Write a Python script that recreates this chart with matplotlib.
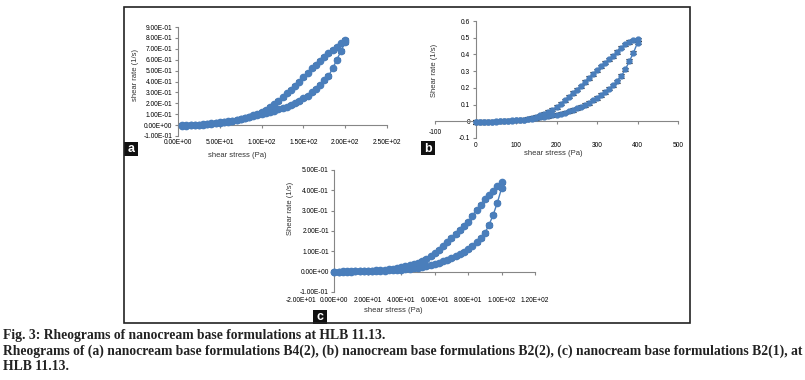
import matplotlib
matplotlib.use("Agg")
import matplotlib.pyplot as plt
from matplotlib.patches import Rectangle
import numpy as np

# ---- data (shear stress in Pa, shear rate in 1/s)
a_stress_up = [5, 10, 15, 20, 25, 30, 35, 40, 45, 50, 55, 60, 65, 70, 75, 80, 85, 90, 95, 100,
               105, 110, 115, 120, 125, 130, 135, 140, 145, 150, 155, 160, 165, 170, 175, 180, 185, 190, 195, 200]
a_rate_up = [0.0, 0.0, 0.001, 0.002, 0.005, 0.008, 0.011, 0.015, 0.02, 0.025, 0.03, 0.035, 0.041, 0.047,
             0.054, 0.062, 0.071, 0.08, 0.09, 0.10, 0.11, 0.12, 0.132, 0.145, 0.157, 0.17, 0.185, 0.20,
             0.22, 0.245, 0.27, 0.30, 0.335, 0.37, 0.41, 0.45, 0.52, 0.60, 0.68, 0.76]
a_stress_down = [200, 195, 190, 185, 180, 175, 170, 165, 160, 155, 150, 145, 140, 135, 130, 125, 120, 115,
                 110, 105, 100, 95, 90, 85, 80, 75, 70, 65, 60, 55, 50, 45, 40, 35, 30, 25, 20, 15, 10, 5]
a_rate_down = [0.78, 0.75, 0.72, 0.69, 0.66, 0.625, 0.59, 0.555, 0.52, 0.48, 0.44, 0.40, 0.36, 0.325,
               0.29, 0.255, 0.22, 0.19, 0.165, 0.14, 0.12, 0.105, 0.09, 0.077, 0.065, 0.055, 0.045,
               0.037, 0.03, 0.025, 0.02, 0.015, 0.01, 0.007, 0.005, 0.002, 0.0, -0.003, -0.005, -0.005]

b_stress_up = [0, 10, 20, 30, 40, 50, 60, 70, 80, 90, 100, 110, 120, 130, 140, 150, 160, 170, 180, 190, 200,
               210, 220, 230, 240, 250, 260, 270, 280, 290, 300, 310, 320, 330, 340, 350, 360, 370, 380, 390, 400]
b_rate_up = [-0.005, -0.005, -0.005, -0.004, -0.003, -0.002, 0.0, 0.002, 0.003, 0.005, 0.006, 0.008,
             0.01, 0.013, 0.016, 0.02, 0.024, 0.028, 0.032, 0.036, 0.04, 0.046, 0.052, 0.06, 0.068,
             0.077, 0.087, 0.098, 0.11, 0.125, 0.14, 0.157, 0.175, 0.195, 0.215, 0.24, 0.27, 0.31,
             0.36, 0.41, 0.47]
b_stress_down = [400, 390, 380, 370, 360, 350, 340, 330, 320, 310, 300, 290, 280, 270, 260, 250, 240, 230,
                 220, 210, 200, 190, 180, 170, 160, 150, 140, 130, 120, 110, 100, 90, 80, 70, 60, 50, 40,
                 30, 20, 10, 0]
b_rate_down = [0.49, 0.485, 0.475, 0.46, 0.44, 0.415, 0.39, 0.37, 0.35, 0.328, 0.305, 0.283, 0.26,
               0.235, 0.21, 0.19, 0.17, 0.147, 0.125, 0.105, 0.085, 0.07, 0.055, 0.045, 0.035, 0.027,
               0.02, 0.015, 0.01, 0.007, 0.005, 0.004, 0.003, 0.001, 0.0, -0.001, -0.002, -0.003,
               -0.004, -0.005, -0.005]

c_stress_up = [0, 2.5, 5, 7.5, 10, 12.5, 15, 17.5, 20, 22.5, 25, 27.5, 30, 32.5, 35, 37.5, 40, 42.5, 45,
               47.5, 50, 52.5, 55, 57.5, 60, 62.5, 65, 67.5, 70, 72.5, 75, 77.5, 80, 82.5, 85, 87.5, 90,
               92.5, 95, 97.5, 100]
c_rate_up = [0.0, 0.0, 0.0, 0.0, 0.0, 0.001, 0.001, 0.002, 0.002, 0.003, 0.003, 0.004, 0.005, 0.006,
             0.007, 0.008, 0.01, 0.012, 0.014, 0.016, 0.019, 0.022, 0.026, 0.031, 0.036, 0.043, 0.05,
             0.057, 0.065, 0.075, 0.085, 0.097, 0.11, 0.127, 0.145, 0.165, 0.19, 0.23, 0.28, 0.34, 0.41]
c_stress_down = [100, 97.5, 95, 92.5, 90, 87.5, 85, 82.5, 80, 77.5, 75, 72.5, 70, 67.5, 65, 62.5, 60,
                 57.5, 55, 52.5, 50, 47.5, 45, 42.5, 40, 37.5, 35, 32.5, 30, 27.5, 25, 22.5, 20, 17.5,
                 15, 12.5, 10, 7.5, 5, 2.5, 0]
c_rate_down = [0.44, 0.42, 0.395, 0.375, 0.355, 0.33, 0.305, 0.275, 0.245, 0.225, 0.205, 0.185, 0.165,
               0.145, 0.124, 0.107, 0.09, 0.076, 0.063, 0.054, 0.045, 0.038, 0.032, 0.027, 0.022,
               0.018, 0.015, 0.012, 0.01, 0.008, 0.007, 0.005, 0.004, 0.003, 0.003, 0.002, 0.002,
               0.001, 0.001, 0.0, 0.0]

a_xticks = [0, 50, 100, 150, 200, 250]
a_yticks = [-0.1, 0, 0.1, 0.2, 0.3, 0.4, 0.5, 0.6, 0.7, 0.8, 0.9]
b_xticks = [-100, 0, 100, 200, 300, 400, 500]
b_yticks = [-0.1, 0, 0.1, 0.2, 0.3, 0.4, 0.5, 0.6]
b_ylabels = ["-0.1", "0", "0.1", "0.2", "0.3", "0.4", "0.5", "0.6"]
c_xticks = [-20, 0, 20, 40, 60, 80, 100, 120]
c_yticks = [-0.1, 0, 0.1, 0.2, 0.3, 0.4, 0.5]

caption = ["Fig. 3: Rheograms of nanocream base formulations at HLB 11.13.",
           "Rheograms of (a) nanocream base formulations B4(2), (b) nanocream base formulations B2(2), "
           "(c) nanocream base formulations B2(1), at",
           "HLB 11.13."]

W, H = 805, 380
BLUE = "#4a7ebb"
GREY = "#868686"
TS = 4.8  # tick label size

fig = plt.figure(figsize=(W / 100, H / 100), dpi=100)


def px(x0, y0, x1, y1):
    # pixel box (top-left origin) -> figure fraction rect
    return [x0 / W, 1 - y1 / H, (x1 - x0) / W, (y1 - y0) / H]


def sci(v):
    return "%.2E" % v


def style_axes(ax):
    for s in ["top", "right"]:
        ax.spines[s].set_visible(False)
    for s in ["left", "bottom"]:
        ax.spines[s].set_color(GREY)
        ax.spines[s].set_linewidth(0.8)
    ax.tick_params(direction="out", length=2.5, width=0.8, color=GREY, labelsize=TS, pad=1.5)
    for lab in ax.get_yticklabels() + ax.get_xticklabels():
        lab.set_family("Liberation Sans")


def loop(ax, xu, yu, xd, yd, err, ms):
    x = np.array(xu + xd)
    y = np.array(yu + yd)
    ax.errorbar(x, y, yerr=err, fmt="-o", color=BLUE, ecolor="black", elinewidth=0.5,
                capsize=2.5, capthick=0.8, markersize=ms, lw=1.0, zorder=3)


def low_labels(ax, ticks, labels, pad):
    sec = ax.secondary_xaxis(0)
    sec.set_xticks(ticks, labels)
    for s in sec.spines.values():
        s.set_visible(False)
    sec.tick_params(length=0, pad=pad, labelsize=TS)
    for lab in sec.get_xticklabels():
        lab.set_family("Liberation Sans")


# ---- panel a
axa = fig.add_axes(px(178, 27, 387, 136))
loop(axa, a_stress_up, a_rate_up, a_stress_down, a_rate_down, 0.015, 4.5)
axa.set_xlim(0, 250)
axa.set_ylim(-0.1, 0.9)
axa.spines["bottom"].set_position(("data", 0))
axa.set_xticks(a_xticks, [""] * len(a_xticks))
axa.set_yticks(a_yticks, [sci(v) for v in a_yticks])
style_axes(axa)
low_labels(axa, a_xticks, [sci(v) for v in a_xticks], 2.5)

# ---- panel b
axb = fig.add_axes(px(435, 21, 678, 138))
loop(axb, b_stress_up, b_rate_up, b_stress_down, b_rate_down, 0.01, 3.5)
axb.set_xlim(-100, 500)
axb.set_ylim(-0.1, 0.6)
axb.spines["bottom"].set_position(("data", 0))
axb.spines["left"].set_position(("data", 0))
axb.set_xticks(b_xticks, ["-100"] + [""] * (len(b_xticks) - 1))
axb.set_yticks(b_yticks, b_ylabels)
style_axes(axb)
axb.tick_params(axis="x", pad=3)
low_labels(axb, b_xticks[1:], [str(v) for v in b_xticks[1:]], 3)

# ---- panel c
axc = fig.add_axes(px(301, 170, 535, 292))
loop(axc, c_stress_up, c_rate_up, c_stress_down, c_rate_down, 0.008, 4.5)
axc.set_xlim(-20, 120)
axc.set_ylim(-0.1, 0.5)
axc.spines["bottom"].set_position(("data", 0))
axc.spines["bottom"].set_bounds(0, 120)
axc.spines["left"].set_position(("data", 0))
axc.set_xticks(c_xticks[1:], [""] * (len(c_xticks) - 1))
axc.set_yticks(c_yticks, [sci(v) for v in c_yticks])
style_axes(axc)
low_labels(axc, c_xticks, [sci(v) for v in c_xticks], 3.5)

# ---- axis titles
lab = dict(family="Liberation Sans", size=5.5, color="#333333", ha="center", va="center")
fig.text(237 / W, 1 - 155 / H, "shear stress (Pa)", **lab)
fig.text(135 / W, 1 - 75 / H, "shear rate (1/s)", rotation=90, **lab)
fig.text(553 / W, 1 - 154 / H, "shear stress (Pa)", **lab)
fig.text(434 / W, 1 - 70 / H, "Shear rate (1/s)", rotation=90, **lab)
fig.text(393 / W, 1 - 310 / H, "shear stress (Pa)", **lab)
fig.text(290 / W, 1 - 208 / H, "Shear rate (1/s)", rotation=90, **lab)

# ---- panel letters
for letter, (x0, y0) in zip("abc", [(124, 142), (421, 141), (313, 310)]):
    fig.add_artist(Rectangle((x0 / W, 1 - (y0 + 14) / H), 14 / W, 14 / H,
                             transform=fig.transFigure, facecolor="#111111", edgecolor="none"))
    fig.text((x0 + 7) / W, 1 - (y0 + 7.5) / H, letter, color="white", fontsize=9,
             fontweight="bold", family="Liberation Sans", ha="center", va="center")

# ---- frame around the panels
fig.add_artist(Rectangle((124 / W, 1 - 323 / H), (690 - 124) / W, (323 - 7) / H,
                         transform=fig.transFigure, fill=False, edgecolor="#222222", linewidth=1.2))

# ---- caption
for i, line in enumerate(caption):
    fig.text(3 / W, 1 - (336 + 15.5 * i) / H, line, family="Liberation Serif", fontweight="bold",
             fontsize=9.8, ha="left", va="center", color="#222222")

fig.savefig("out.png", dpi=100)
